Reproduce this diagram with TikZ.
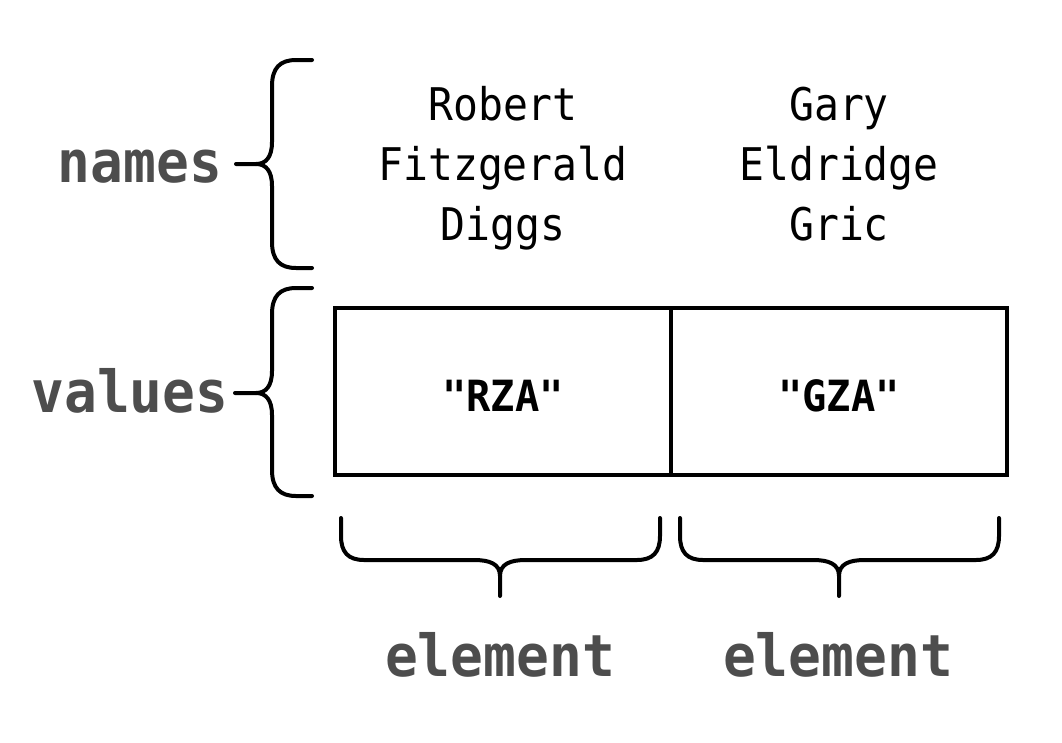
\documentclass[tikz,border=0pt]{standalone}
\usepackage{fontspec}
\setmonofont{DejaVu Sans Mono}
\newfontfamily\narrowmono[FakeStretch=0.92]{DejaVu Sans Mono}
\newfontfamily\narrowmonob[FakeStretch=0.94]{DejaVu Sans Mono Bold}
\definecolor{labelgray}{HTML}{4D4D4D}
\begin{document}
\begin{tikzpicture}[x=1pt,y=-1pt,
  brace/.style={line width=4pt, line cap=round, line join=round},
  cell/.style={draw, line width=3.5pt, minimum width=336pt, minimum height=167pt, inner sep=0pt},
  lbl/.style={font=\narrowmonob\fontsize{58}{60}\selectfont, text=labelgray, inner sep=0pt, anchor=base},
  nm/.style={font=\narrowmono\fontsize{45}{60}\selectfont, inner sep=0pt, anchor=base},
  val/.style={font=\narrowmonob\fontsize{43}{48}\selectfont, inner sep=0pt, anchor=base}]
\useasboundingbox[fill=white] (0,0) rectangle (1062,742);

% labels
\node[lbl] (names) at (140,182) {names};
\node[lbl] (values) at (130,412) {values};
\node[lbl] (el1) at (500,676) {element};
\node[lbl] (el2) at (838,676) {element};

% name texts
\node[nm] (n11) at (503,120) {Robert};
\node[nm] (n12) at (503,180) {Fitzgerald};
\node[nm] (n13) at (503,240) {Diggs};
\node[nm] (n21) at (839,120) {Gary};
\node[nm] (n22) at (839,180) {Eldridge};
\node[nm] (n23) at (839,240) {Gric};

% value cells
\node[cell] (c1) at (503,391.5) {};
\node[cell] (c2) at (839,391.5) {};
\node[val] (v1) at (503,411) {"RZA"};
\node[val] (v2) at (839,411) {"GZA"};

% names brace
\draw[brace] (312,60) -- (296,60) .. controls (280,60) and (272,68) .. (272,86) -- (272,142)
  .. controls (272,157) and (266,164) .. (256,164) -- (236,164);
\draw[brace] (256,164) .. controls (266,164) and (272,171) .. (272,186) -- (272,242)
  .. controls (272,260) and (280,268) .. (296,268) -- (312,268);

% values brace
\draw[brace] (312,288) -- (296,288) .. controls (280,288) and (272,296) .. (272,314) -- (272,371)
  .. controls (272,386) and (266,393) .. (256,393) -- (235,393);
\draw[brace] (256,393) .. controls (266,393) and (272,400) .. (272,415) -- (272,470)
  .. controls (272,488) and (280,496) .. (296,496) -- (312,496);

% element braces
\draw[brace] (341,518) -- (341,536) .. controls (341,552) and (348,560) .. (364,560) -- (474,560)
  .. controls (490,560) and (500,564) .. (500,576) -- (500,596);
\draw[brace] (500,576) .. controls (500,564) and (510,560) .. (526,560) -- (637,560)
  .. controls (653,560) and (660,552) .. (660,536) -- (660,518);
\draw[brace] (680,518) -- (680,536) .. controls (680,552) and (687,560) .. (703,560) -- (813,560)
  .. controls (829,560) and (839,564) .. (839,576) -- (839,596);
\draw[brace] (839,576) .. controls (839,564) and (849,560) .. (865,560) -- (976,560)
  .. controls (992,560) and (999,552) .. (999,536) -- (999,518);
\end{tikzpicture}
\end{document}
